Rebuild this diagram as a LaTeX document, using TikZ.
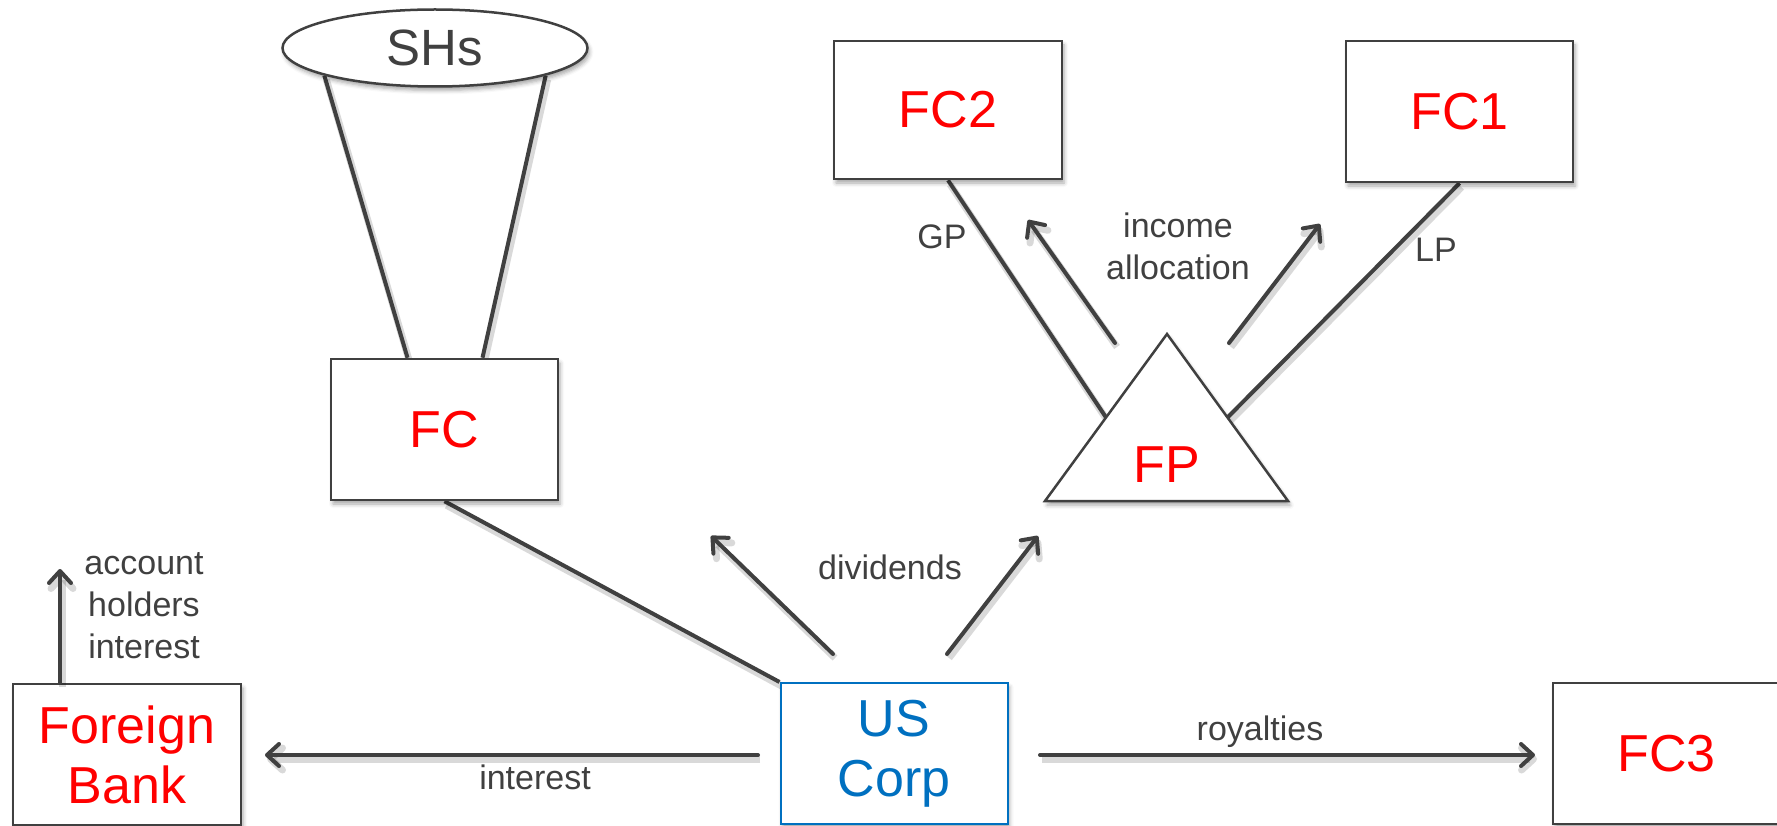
\documentclass[tikz,border=0pt]{standalone}
\usepackage{fontspec}
\setmainfont{Liberation Sans}
\usetikzlibrary{arrows.meta,shapes.geometric,shadows.blur,calc}
\definecolor{ink}{HTML}{404040}
\definecolor{fcred}{HTML}{FF0000}
\definecolor{usblue}{HTML}{0070C0}
\pgfdeclarelayer{bg}
\pgfsetlayers{bg,main}

\begin{document}
\begin{tikzpicture}[x=1pt,y=-1pt,
  softshadow/.style={blur shadow={shadow xshift=2pt,shadow yshift=-4pt,shadow blur radius=4pt,shadow opacity=35}},
  lineshadow/.style={preaction={draw=black,opacity=0.15,line width=7pt,transform canvas={shift={(2pt,-4pt)}}}},
  entity/.style={draw=ink,line width=2.5pt,fill=white,minimum width=227pt,minimum height=141pt,
    inner sep=0pt,text=fcred,font=\fontsize{52}{60}\selectfont,align=center,softshadow},
  conn/.style={draw=ink,line width=4pt,lineshadow},
  flow/.style={conn,-{Straight Barb[length=12pt,width=22pt,line cap=round,line join=round]},line cap=round},
  lbl/.style={text=ink,font=\fontsize{34}{42}\selectfont,align=center,inner sep=0pt}
]
\useasboundingbox (0,0) rectangle (1777,826);

% entities
\node[entity] (fc) at (444.5,429.5) {FC};
\node[entity,minimum width=228pt,minimum height=138pt] (fc2) at (948,110) {FC2};
\node[entity] (fc1) at (1459.5,111.5) {FC1};
\node[entity,draw=usblue,text=usblue,line width=2pt] (us) at (894,753.5) {US\\Corp};
\node[entity,minimum width=228pt] (bank) at (127,754.5) {Foreign\\Bank};
\node[entity] (fc3) at (1666.5,753.5) {FC3};
\node[ellipse,draw=ink,line width=2.5pt,fill=white,minimum width=305pt,minimum height=77pt,
  inner sep=0pt,text=ink,font=\fontsize{51}{54}\selectfont,softshadow] (shs) at (435,48) {SHs};

% partnership triangle
\coordinate (fpT) at (1167,334);
\coordinate (fpL) at (1045,501);
\coordinate (fpR) at (1288,501);
\draw[ink,line width=2.5pt,fill=white,softshadow] (fpT) -- (fpL) -- (fpR) -- cycle;
\node[text=fcred,font=\fontsize{52}{60}\selectfont,inner sep=0pt] (fp) at (1167,465) {FP};
\coordinate (fpGP) at ($(fpT)!0.5!(fpL)$);
\coordinate (fpLP) at ($(fpT)!0.5!(fpR)$);

% ownership lines
\begin{pgfonlayer}{bg}
\draw[conn] (shs.194) -- ($(fc.north)+(-37,0)$);
\draw[conn] (shs.346) -- ($(fc.north)+(38,0)$);
\draw[conn] (fc.south) -- (us.north west);
\draw[conn] (fc2.south) -- (fpGP);
\draw[conn] (fc1.south) -- (fpLP);
\end{pgfonlayer}

% payment flows
\coordinate (intA) at (758,755);   \coordinate (intB) at (265,755);
\coordinate (royA) at (1040,755);  \coordinate (royB) at (1535,755);
\coordinate (divA1) at (833,654);  \coordinate (divB1) at (711,536);
\coordinate (divA2) at (947,654);  \coordinate (divB2) at (1038,536);
\coordinate (incA1) at (1115,343); \coordinate (incB1) at (1028,220);
\coordinate (incA2) at (1229,343); \coordinate (incB2) at (1320,224);
\coordinate (accB) at (60,569);
\draw[flow] (intA) -- (intB);
\draw[flow] (royA) -- (royB);
\draw[flow] (divA1) -- (divB1);
\draw[flow] (divA2) -- (divB2);
\draw[flow] (incA1) -- (incB1);
\draw[flow] (incA2) -- (incB2);
\draw[flow] (bank.north west -| accB) -- (accB);

% labels
\node[lbl] (ldiv) at (890,567) {dividends};
\node[lbl] (lroy) at (1260,732) {royalties};
\node[lbl] (lint) at (535,777) {interest};
\node[lbl] (lacc) at (144,606) {account\\holders\\interest};
\node[lbl] (linc) at (1178,246) {income\\allocation};
\node[lbl] (lgp) at (942,237) {GP};
\node[lbl] (llp) at (1436,250) {LP};
\end{tikzpicture}
\end{document}
